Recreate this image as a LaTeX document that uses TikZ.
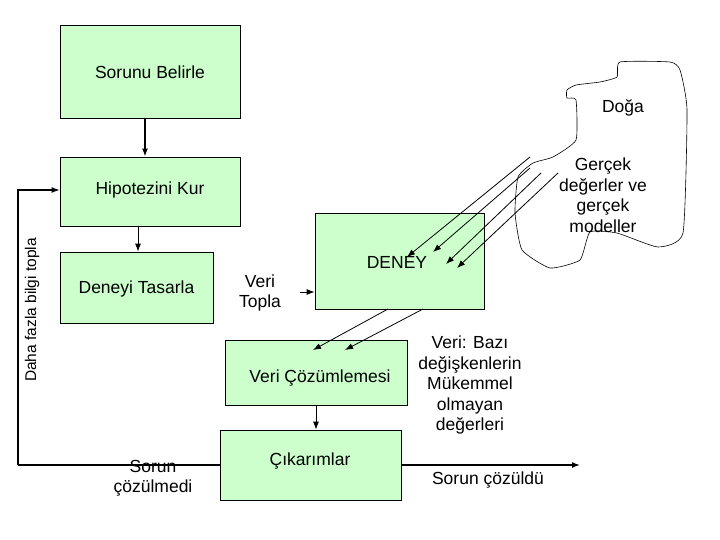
\documentclass[tikz,border=0pt]{standalone}
\usepackage{fontspec}
\setmainfont{Liberation Sans}
\usetikzlibrary{arrows.meta}
\begin{document}
\begin{tikzpicture}[x=1pt,y=-1pt,line width=0.8pt,
 box/.style={draw,fill={rgb,255:red,204;green,255;blue,204},inner sep=0},
 lbl/.style={font=\fontsize{17.5}{20.5}\selectfont,align=center},
 arr/.style={-{Latex[length=8pt,width=6pt]}}]
\useasboundingbox (0,0) rectangle (720,540);
\node[box,minimum width=180pt,minimum height=93pt] (sb) at (150,71.5) {};
\node[lbl] at (150,72) {Sorunu Belirle};
\node[box,minimum width=180pt,minimum height=69pt] (hk) at (150,191.5) {};
\node[lbl] at (150,190) {Hipotezini Kur};
\node[box,minimum width=153pt,minimum height=71pt] (dt) at (136.5,287.5) {};
\node[lbl] at (136.5,289) {Deneyi Tasarla};
\node[box,minimum width=169pt,minimum height=96pt] (dn) at (399.5,261) {};
\node[lbl] at (397,262) {DENEY};
\node[box,minimum width=182pt,minimum height=65pt] (vc) at (316,372.5) {};
\node[lbl] at (320,378) {Veri Çözümlemesi};
\node[box,minimum width=181pt,minimum height=70pt] (ck) at (310.5,465) {};
\node[lbl] at (310,461) {Çıkarımlar};
% cloud
\draw[line width=0.6pt] plot[smooth cycle,tension=0.3] coordinates {(576,85) (567,90) (567,98) (576,100) (576,140) (553,157) (533,163) (518,177) (515,213) (522,250) (550,268) (580,260) (590,232) (617,233) (658,247) (683,233) (687,110) (680,70) (670,62) (620,62) (617,77) (600,82)};
\node[lbl] (doga) at (623,108) {Doğa};
\node[lbl] (gd) at (603,195) {Gerçek\\değerler ve\\gerçek\\modeller};
% connectors
\draw[arr,line width=1.5pt] (sb.south -| 145,0) -- (hk.north -| 145,0);
\draw[arr] (hk.south -| 138,0) -- (dt.north -| 138,0);
\coordinate (vt) at (300,292);
\draw[arr] (vt) -- (dn.west |- vt);
\node[lbl] at (260,293) {Veri\\Topla};
\draw[arr] (388,309) -- (313,350);
\draw[arr] (423,309) -- (345,350);
\draw[arr] (vc.south -| 316,0) -- (ck.north -| 316,0);
\coordinate (c1) at (530,157);\coordinate (c2) at (530,168);
\coordinate (c3) at (541,173);\coordinate (c4) at (558,173);
\draw[arr] (c1) -- (407,257);
\draw[arr] (c2) -- (433,252);
\draw[arr] (c3) -- (446,264);
\draw[arr] (c4) -- (457,268);
\coordinate (lc) at (18,465);
\draw[line width=1.5pt] (ck.west |- lc) -- (lc);
\draw[arr,line width=1.2pt] (lc) -- (18,190) -- (hk.west |- 0,190);
\node[lbl,rotate=90,font=\fontsize{15.5}{18}\selectfont] at (32,310) {Daha fazla bilgi topla};
\coordinate (rc) at (580,465);
\draw[arr,line width=1.5pt] (ck.east |- rc) -- (rc);
\node[lbl] at (153,478) {Sorun\\çözülmedi};
\node[lbl] at (488,480) {Sorun çözüldü};
\node[lbl] at (470,385) {Veri: Bazı\\değişkenlerin\\Mükemmel\\olmayan\\değerleri};
\end{tikzpicture}
\end{document}
